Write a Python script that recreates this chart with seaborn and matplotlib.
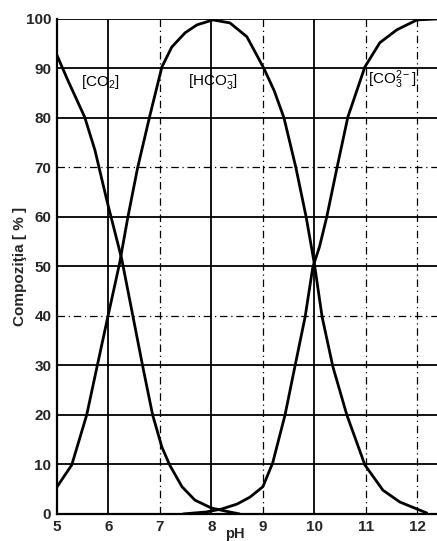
import matplotlib
matplotlib.use("Agg")
import matplotlib.pyplot as plt
import seaborn as sns
import pandas as pd

# Data
ph_co2 = [4.96, 5.21, 5.54, 5.74, 5.97, 6.26, 6.48, 6.67, 6.86, 7.04, 7.19, 7.43, 7.68, 8.0, 8.26, 8.55]
co2 = [93.7, 87.7, 80.2, 73.5, 63.4, 51.5, 39.8, 29.7, 20.0, 13.5, 9.9, 5.5, 2.8, 1.2, 0.6, 0.0]

ph_hco3 = [4.96, 5.29, 5.58, 5.78, 5.99, 6.22, 6.38, 6.57, 6.8, 7.04, 7.23, 7.49, 7.72, 8.03,
           8.36, 8.69, 9.02, 9.22, 9.41, 9.64, 9.84, 10.0, 10.15, 10.36, 10.63, 10.98, 11.33, 11.66, 12.18]
hco3 = [4.8, 9.9, 20.0, 29.7, 39.8, 50.7, 60.0, 70.0, 80.2, 90.3, 94.3, 97.2, 98.8, 99.8,
        99.2, 96.4, 90.0, 85.5, 80.0, 70.0, 60.0, 50.5, 39.8, 29.7, 20.0, 9.9, 4.8, 2.4, 0.2]

ph_co3 = [7.45, 7.9, 8.2, 8.5, 8.75, 9.0, 9.19, 9.43, 9.62, 9.82, 9.97, 10.1, 10.24, 10.44,
          10.65, 10.98, 11.27, 11.6, 11.99, 12.38]
co3 = [0.0, 0.4, 1.0, 2.0, 3.4, 5.5, 10.3, 20.0, 29.7, 39.8, 49.9, 54.0, 60.0, 70.0,
       80.2, 90.3, 95.2, 97.8, 99.8, 100.0]

labels = ["[CO$_2$]", "[HCO$_3^{-}$]", "[CO$_3^{2-}$]"]
label_x = [5.85, 8.03, 11.52]
label_y = [87.3, 87.3, 87.8]

xticks = [5, 6, 7, 8, 9, 10, 11, 12]
yticks = [0, 10, 20, 30, 40, 50, 60, 70, 80, 90, 100]

sns.set_style("white")
plt.rcParams['font.family'] = ['Liberation Sans', 'DejaVu Sans']
plt.rcParams['mathtext.fontset'] = 'custom'
plt.rcParams['mathtext.rm'] = 'Liberation Sans'
plt.rcParams['mathtext.it'] = 'Liberation Sans'

fig = plt.figure(figsize=(4.37, 5.41), dpi=100)
ax = fig.add_axes([0.130, 0.050, 0.870, 0.915])

# grid lines
solid_y = [10, 20, 30, 50, 60, 80, 90, 100]
dash_y = [40, 70]
solid_x = [6, 8, 10]
dash_x = [7, 9, 11, 12]
for y in solid_y:
    ax.axhline(y, color='black', lw=1.3, zorder=1)
for y in dash_y:
    ax.axhline(y, color='black', lw=0.9, ls=(0, (6, 3, 1, 3)), zorder=1)
for x in solid_x:
    ax.axvline(x, color='black', lw=1.3, zorder=1)
for x in dash_x:
    ax.axvline(x, color='black', lw=0.9, ls=(0, (6, 3, 1, 3)), zorder=1)

for xs, ys in [(ph_co2, co2), (ph_hco3, hco3), (ph_co3, co3)]:
    df = pd.DataFrame({"pH": xs, "val": ys})
    sns.lineplot(data=df, x="pH", y="val", ax=ax, color='black', lw=2.0, zorder=3)

for t, x, y in zip(labels, label_x, label_y):
    ax.text(x, y, t, ha='center', va='center', fontsize=11, color='black', zorder=4)

ax.set_xlim(5, 12.38)
ax.set_ylim(0, 100)
ax.set_xticks(xticks)
ax.set_yticks(yticks)
ax.tick_params(length=0, labelsize=11, pad=4)
for lab in ax.get_xticklabels() + ax.get_yticklabels():
    lab.set_fontweight('bold')
ax.set_xlabel("pH", fontsize=10.5, fontweight='bold', va='center')
ax.xaxis.set_label_coords(0.468, -0.04)
ax.set_ylabel("Compoziţia [ % ]", fontsize=11, fontweight='bold', va='center')
ax.yaxis.set_label_coords(-0.097, 0.5)
for s in ['top', 'right']:
    ax.spines[s].set_visible(False)
for s in ['left', 'bottom']:
    ax.spines[s].set_color('black')
    ax.spines[s].set_linewidth(1.6)

fig.savefig("out.png", dpi=100)
